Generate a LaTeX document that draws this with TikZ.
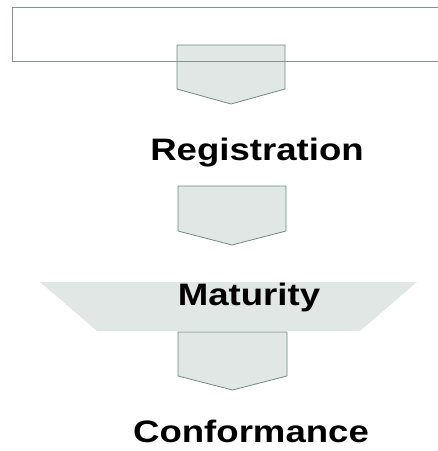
\documentclass[tikz,border=0pt]{standalone}
\usepackage{fontspec}
\newfontfamily\stepfont[FakeStretch=1.18]{Liberation Sans}
\definecolor{boxfill}{HTML}{E1E7E5}
\definecolor{boxline}{HTML}{6F8C83}
\definecolor{frameline}{HTML}{7F958D}

\tikzset{
  arrowbox/.style={draw=boxline, fill=boxfill, line width=0.8pt, line join=miter},
  steplabel/.style={anchor=base, inner sep=0pt, font=\stepfont\bfseries\fontsize{31}{37}\selectfont}
}

\begin{document}
\begin{tikzpicture}[x=1pt,y=-1pt]
    \useasboundingbox (0,0) rectangle (438,451);
    \clip (0,0) rectangle (438,451);
    % maturity band
    \fill[boxfill] (40,282) -- (417,282) -- (360,331) -- (97,331) -- cycle;
    % down arrows
    \draw[arrowbox] (177,45) -- (285,45) -- (285,89) -- (231,104) -- (177,89) -- cycle;
    \draw[arrowbox] (178,186) -- (286,186) -- (286,231) -- (232,245) -- (178,231) -- cycle;
    \draw[arrowbox] (178,332) -- (287,332) -- (287,376) -- (232.5,390) -- (178,376) -- cycle;
    % frame at the top, over the first arrow
    \draw[frameline, line width=0.8pt] (445,7) -- (12,7) -- (12,61) -- (445,61);
    % labels
    \node[steplabel] (reg) at (257,160) {Registration};
    \node[steplabel] (mat) at (249,305) {Maturity};
    \node[steplabel] (conf) at (251,442) {Conformance};
\end{tikzpicture}
\end{document}
